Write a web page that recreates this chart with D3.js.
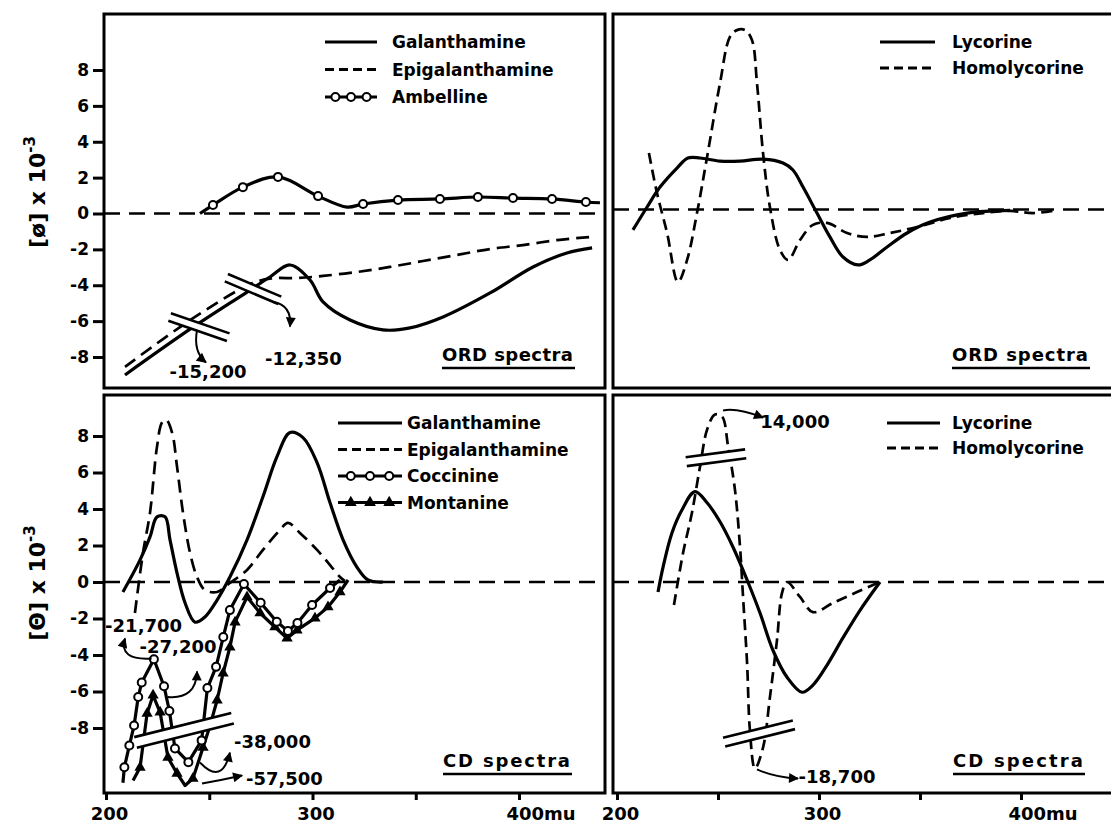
<!DOCTYPE html>
<html>

<head>
  <meta charset="UTF-8">
  <title>ORD and CD spectra</title>
  <style>
    body { margin: 0; background: #fff; }
    svg { display: block; font-family: 'DejaVu Sans', sans-serif; font-weight: bold; }
  </style>
</head>

<body>
  <script src="https://cdn.jsdelivr.net/npm/d3@7"></script>
  <script>
    const width = 1111,
      height = 824

    // ticks
    const yTickValues = [8, 6, 4, 2, 0, -2, -4, -6, -8]
    const xTickValues = [200, 250, 300, 350, 400]
    const xTickLabels = ['200', '', '300', '', '400mu']

    // legend names and panel titles
    const ordLeftSeries = ['Galanthamine', 'Epigalanthamine', 'Ambelline']
    const ordRightSeries = ['Lycorine', 'Homolycorine']
    const cdLeftSeries = ['Galanthamine', 'Epigalanthamine', 'Coccinine', 'Montanine']
    const cdRightSeries = ['Lycorine', 'Homolycorine']
    const panelTitles = ['ORD spectra', 'ORD spectra', 'CD spectra', 'CD spectra']

    // ORD spectra, [wavelength mu, value x 10^-3]
    const ordGalanthamine = [[209.2, -9.0], [240.7, -6.45], [268.3, -4.38], [279.4, -3.54], [289.1, -2.87],
      [298.8, -3.71], [305.1, -4.93], [318.2, -5.94], [334.1, -6.49], [347.2, -6.38], [363.2, -5.77],
      [386.0, -4.43], [406.8, -2.98], [423.2, -2.20], [435.4, -1.92]]
    const ordEpigalanthamine = [[209.2, -8.55], [240.7, -5.95], [269.7, -3.95], [280.0, -3.62], [292.5, -3.60],
      [305.1, -3.48], [321.5, -3.26], [337.5, -2.98], [353.5, -2.65], [369.9, -2.31], [386.0, -1.98],
      [401.9, -1.76], [418.4, -1.48], [434.4, -1.31]]
    // third value: 1 = circle drawn on that point
    const ordAmbelline = [[245.5, 0, 0], [251.8, 0.47, 1], [266.3, 1.47, 1], [283.3, 2.04, 1], [302.7, 0.97, 1],
      [316.7, 0.36, 0], [324.5, 0.53, 1], [341.4, 0.75, 1], [361.7, 0.81, 1], [380.1, 0.92, 1],
      [397.1, 0.86, 1], [416.0, 0.81, 1], [432.4, 0.64, 1], [439.2, 0.6, 0]]
    const ordLycorine = [[207.9, -1.14], [214.9, 0.14], [221.3, 1.25], [229.7, 2.31], [235.1, 2.87],
      [241.1, 2.87], [251.0, 2.70], [260.9, 2.70], [272.3, 2.81], [282.2, 2.59], [287.1, 2.20],
      [292.1, 1.25], [299.0, -0.20], [305.4, -1.53], [311.9, -2.65], [319.3, -3.09], [325.2, -2.81],
      [333.7, -2.09], [343.6, -1.31], [355.0, -0.70], [373.3, -0.20], [394.6, -0.05]]
    const ordHomolycorine = [[215.8, 3.15], [219.8, 0.92], [224.8, -1.31], [230.2, -4.04], [234.7, -2.81],
      [239.6, -0.20], [244.6, 2.93], [251.0, 7.05], [255.9, 9.62], [259.4, 10.0], [263.4, 10.0],
      [266.8, 9.45], [269.3, 7.05], [272.3, 3.15], [275.7, 0.14], [280.7, -2.26], [284.7, -2.81],
      [290.6, -1.70], [297.0, -0.86], [304.0, -0.75], [313.9, -1.31], [323.8, -1.53], [335.1, -1.31],
      [348.5, -0.98], [364.9, -0.47], [381.2, -0.20], [394.6, -0.08], [406.0, -0.20], [417.8, -0.03]]

    // CD spectra
    const cdGalanthamine = [[208.2, -0.55], [216.5, 1.21], [221.3, 2.47], [224.7, 3.57], [228.6, 3.57],
      [231.0, 2.31], [234.4, 0.49], [238.3, -1.15], [243.1, -2.20], [247.9, -1.92], [253.8, -0.99],
      [260.0, 0.27], [268.3, 2.31], [276.0, 4.67], [282.8, 6.87], [289.1, 8.19], [295.4, 7.91],
      [302.2, 6.54], [308.5, 4.34], [314.8, 2.31], [321.5, 0.82], [326.9, 0.11], [334.1, 0]]
    const cdEpigalanthamine = [[214.0, -1.70], [217.9, 1.59], [221.3, 3.79], [224.7, 7.42], [227.1, 8.74],
      [229.1, 8.90], [232.0, 8.19], [234.4, 6.32], [237.3, 3.79], [240.7, 1.59], [244.1, 0.27],
      [247.9, -0.44], [253.8, -0.55], [260.0, -0.05], [268.3, 0.66], [276.0, 1.76], [284.3, 2.86],
      [288.1, 3.24], [293.9, 2.69], [302.2, 1.76], [308.5, 0.93], [313.3, 0.27], [315.7, 0.05]]
    const cdCoccinine = [[208.2, -11.0, 0], [208.9, -10.15, 1], [211.3, -8.96, 1], [213.6, -7.86, 1],
      [215.6, -6.30, 1], [217.3, -5.51, 1], [223.2, -4.23, 1], [228.1, -5.71, 1], [230.7, -7.07, 1],
      [233.4, -9.12, 1], [239.9, -9.87, 1], [246.3, -8.68, 1], [249.1, -5.81, 1], [253.3, -4.65, 1],
      [256.8, -3.01, 1], [260.0, -1.54, 1], [266.8, -0.11, 1], [274.9, -1.14, 1], [282.7, -2.18, 1],
      [288.1, -2.69, 1], [292.7, -2.25, 1], [299.8, -1.26, 1], [308.5, -0.33, 1], [313.3, 0.11, 0]]
    const cdMontanine = [[213.1, -10.88, 0], [216.5, -10.16, 1], [219.9, -7.20, 1], [222.8, -6.21, 1],
      [226.2, -7.14, 1], [230.0, -9.62, 1], [234.4, -10.49, 1], [238.3, -11.15, 0], [242.1, -10.77, 1],
      [247.0, -9.07, 1], [250.4, -7.86, 0], [253.8, -6.48, 1], [256.7, -5.00, 1], [260.0, -3.57, 1],
      [262.5, -2.20, 1], [268.3, -0.82, 1], [274.6, -1.70, 1], [281.8, -2.47, 1], [287.7, -3.08, 1],
      [292.5, -2.64, 1], [301.2, -1.98, 1], [307.5, -1.37, 1], [313.3, -0.55, 1], [317.2, 0.11, 0]]
    const cdLycorine = [[220.3, -0.55], [222.8, 0.82], [227.2, 2.69], [232.2, 3.96], [238.6, 4.95],
      [244.6, 4.34], [251.0, 3.30], [257.4, 1.92], [264.4, 0.11], [270.8, -1.70], [277.2, -3.74],
      [284.2, -5.22], [291.6, -6.04], [297.0, -5.65], [304.0, -4.55], [311.9, -3.05], [320.3, -1.55],
      [330.2, 0]]
    const cdHomolycorine = [[228.2, -1.26], [232.7, 1.59], [237.1, 3.79], [241.1, 6.32], [244.6, 8.35],
      [248.5, 9.18], [252.0, 9.07], [255.0, 7.42], [258.4, 5.05], [260.9, 1.92], [262.4, -0.82],
      [264.4, -4.45], [265.8, -8.13], [268.3, -10.22], [272.3, -9.07], [275.7, -6.32], [279.2, -3.19],
      [281.7, -0.60], [284.2, 0], [290.6, -0.82], [297.0, -1.65], [306.9, -1.15], [318.8, -0.55],
      [330.2, 0]]

    // value notes (off-scale extremes) and their arrows [start, bend, end]
    const ordLeftNotes = [['-15,200', 249.4, -9.17], ['-12,350', 295.6, -8.44]]
    const ordLeftArrows = [[[244.1, -6.49], [242.1, -7.72], [248.4, -8.3]],
      [[280.9, -4.93], [290.1, -5.1], [289.1, -6.3]]]
    const ordLeftBreaks = [[245.0, -6.33], [271.2, -4.21]]
    const cdLeftNotes = [['-21,700', 218.2, -2.75], ['-27,200', 234.9, -3.90], ['-38,000', 280.6, -9.07],
      ['-57,500', 286.4, -11.1]]
    const cdLeftArrows = [[[222.1, -4.19], [206, -4.3], [209.2, -3.1]],
      [[230.0, -6.30], [243.6, -6.43], [244.1, -4.9]],
      [[245.5, -9.89], [256.2, -11.15], [260.0, -9.35]],
      [[246.5, -11.04], [256, -10.85], [265.9, -10.6]]]
    const cdLeftBreaks = [[237.8, -8.13]]
    const cdRightNotes = [['14,000', 288.1, 8.46], ['-18,700', 308.9, -11.04]]
    const cdRightArrows = [[[252.5, 9.40], [259.4, 9.56], [272.3, 9.01]],
      [[269.3, -10.27], [278, -10.7], [289.6, -10.77]]]
    const cdRightBreaks = [[249.0, 6.81], [270.3, -8.30]]

    const svg = d3.select('body')
      .append('svg')
      .attr('width', width)
      .attr('height', height)

    const defs = svg.append('defs')
    defs.append('marker')
      .attr('id', 'arrowhead')
      .attr('viewBox', '0 0 10 10')
      .attr('refX', 9)
      .attr('refY', 5)
      .attr('markerWidth', 12)
      .attr('markerHeight', 10)
      .attr('markerUnits', 'userSpaceOnUse')
      .attr('orient', 'auto')
      .append('path')
      .attr('d', 'M0,0L10,5L0,10z')

    const xLeft = d3.scaleLinear().domain([200, 400]).range([106, 519])
    const xRight = d3.scaleLinear().domain([200, 400]).range([617, 1021])
    const yOrd = d3.scaleLinear().domain([8, -8]).range([70, 357])
    const yOrdRight = d3.scaleLinear().domain([8, -8]).range([66, 353])
    const yCd = d3.scaleLinear().domain([8, -8]).range([436, 728])

    const panels = [
      { box: [104, 14, 605, 388], x: xLeft, y: yOrd },
      { box: [613, 14, 1118, 388], x: xRight, y: yOrdRight },
      { box: [104, 395, 605, 793], x: xLeft, y: yCd },
      { box: [613, 395, 1118, 793], x: xRight, y: yCd }
    ]

    // zero lines
    panels.forEach(p => {
      svg.append('line')
        .attr('x1', p.box[0]).attr('x2', p.box[2])
        .attr('y1', p.y(0)).attr('y2', p.y(0))
        .attr('stroke', '#000')
        .attr('stroke-width', 2.6)
        .attr('stroke-dasharray', '16,9')
    })

    function drawCurve(p, data, dash, curve) {
      const line = d3.line()
        .x(d => p.x(d[0]))
        .y(d => p.y(d[1]))
        .curve(curve || d3.curveCatmullRom.alpha(0.5))
      svg.append('path')
        .datum(data)
        .attr('d', line)
        .attr('fill', 'none')
        .attr('stroke', '#000')
        .attr('stroke-width', dash ? 2.7 : 3.2)
        .attr('stroke-linejoin', 'round')
        .attr('stroke-dasharray', dash || null)
    }

    function drawMarkers(p, data, type) {
      const pts = data.filter(d => d[2] === 1)
      if (type === 'circles') {
        svg.append('g').selectAll('circle')
          .data(pts).enter()
          .append('circle')
          .attr('cx', d => p.x(d[0]))
          .attr('cy', d => p.y(d[1]))
          .attr('r', 4)
          .attr('fill', '#fff')
          .attr('stroke', '#000')
          .attr('stroke-width', 2)
      } else {
        svg.append('g').selectAll('path')
          .data(pts).enter()
          .append('path')
          .attr('d', d3.symbol().type(d3.symbolTriangle).size(55))
          .attr('transform', d => `translate(${p.x(d[0])},${p.y(d[1])})`)
          .attr('fill', '#000')
      }
    }

    function drawBreak(p, pt, angle, len, gap) {
      const g = svg.append('g')
        .attr('transform', `translate(${p.x(pt[0])},${p.y(pt[1])}) rotate(${angle})`)
      g.append('rect')
        .attr('x', -len / 2).attr('y', -gap / 2)
        .attr('width', len).attr('height', gap)
        .attr('fill', '#fff')
      g.selectAll('line')
        .data([-gap / 2, gap / 2]).enter()
        .append('line')
        .attr('x1', -len / 2).attr('x2', len / 2)
        .attr('y1', d => d).attr('y2', d => d)
        .attr('stroke', '#000')
        .attr('stroke-width', 2.6)
    }

    function drawNotes(p, notes, arrows) {
      notes.forEach(n => {
        svg.append('text')
          .attr('x', p.x(n[1]))
          .attr('y', p.y(n[2]))
          .attr('text-anchor', 'middle')
          .attr('font-size', 18)
          .text(n[0])
      })
      arrows.forEach(a => {
        const path = d3.path()
        path.moveTo(p.x(a[0][0]), p.y(a[0][1]))
        path.quadraticCurveTo(p.x(a[1][0]), p.y(a[1][1]), p.x(a[2][0]), p.y(a[2][1]))
        svg.append('path')
          .attr('d', path.toString())
          .attr('fill', 'none')
          .attr('stroke', '#000')
          .attr('stroke-width', 2)
          .attr('marker-end', 'url(#arrowhead)')
      })
    }

    function drawLegend(names, types, x0, x1, tx, y0, dy) {
      names.forEach((name, i) => {
        const y = y0 + i * dy
        const t = types[i]
        svg.append('line')
          .attr('x1', x0).attr('x2', x1)
          .attr('y1', y).attr('y2', y)
          .attr('stroke', '#000')
          .attr('stroke-width', 3)
          .attr('stroke-dasharray', t === 'dashed' ? '9,5' : null)
        if (t === 'circles' || t === 'triangles') {
          const xs = [0.2, 0.5, 0.8].map(f => x0 + f * (x1 - x0))
          svg.append('g').selectAll('.m')
            .data(xs).enter()
            .append('path')
            .attr('d', t === 'circles'
              ? d3.symbol().type(d3.symbolCircle).size(50)
              : d3.symbol().type(d3.symbolTriangle).size(60))
            .attr('transform', d => `translate(${d},${y})`)
            .attr('fill', t === 'circles' ? '#fff' : '#000')
            .attr('stroke', '#000')
            .attr('stroke-width', t === 'circles' ? 2 : 0)
        }
        svg.append('text')
          .attr('x', tx)
          .attr('y', y)
          .attr('dy', '0.36em')
          .attr('font-size', 17)
          .text(name)
      })
    }

    // curves
    const [tl, tr, bl, br] = panels
    drawCurve(tl, ordGalanthamine)
    drawCurve(tl, ordEpigalanthamine, '13,7')
    drawCurve(tl, ordAmbelline)
    drawMarkers(tl, ordAmbelline, 'circles')
    drawCurve(tr, ordLycorine)
    drawCurve(tr, ordHomolycorine, '11,6')
    drawCurve(bl, cdGalanthamine)
    drawCurve(bl, cdEpigalanthamine, '13,7')
    drawCurve(bl, cdCoccinine, null, d3.curveLinear)
    drawCurve(bl, cdMontanine, null, d3.curveLinear)
    drawMarkers(bl, cdMontanine, 'triangles')
    drawMarkers(bl, cdCoccinine, 'circles')
    drawCurve(br, cdLycorine)
    drawCurve(br, cdHomolycorine, '11,6')

    // break symbols
    drawBreak(tl, ordLeftBreaks[0], 19, 62, 8)
    drawBreak(tl, ordLeftBreaks[1], 23, 58, 8)
    drawBreak(bl, cdLeftBreaks[0], -14, 100, 11)
    drawBreak(br, cdRightBreaks[0], -7.5, 60, 9)
    drawBreak(br, cdRightBreaks[1], -14, 72, 9)

    drawNotes(tl, ordLeftNotes, ordLeftArrows)
    drawNotes(bl, cdLeftNotes, cdLeftArrows)
    drawNotes(br, cdRightNotes, cdRightArrows)

    // legends
    drawLegend(ordLeftSeries, ['solid', 'dashed', 'circles'], 325, 377, 392, 42, 27.5)
    drawLegend(ordRightSeries, ['solid', 'dashed'], 880, 935, 952, 42, 26)
    drawLegend(cdLeftSeries, ['solid', 'dashed', 'circles', 'triangles'], 338, 402, 407, 423, 26.5)
    drawLegend(cdRightSeries, ['solid', 'dashed'], 887, 940, 952, 423, 25)

    // panel titles, underlined
    const titlePos = [[442, 361, 131], [952, 361, 136], [443, 767, 127], [953, 767, 130]]
    panelTitles.forEach((t, i) => {
      const [x, y, len] = titlePos[i]
      svg.append('text')
        .attr('x', x).attr('y', y)
        .attr('font-size', 18)
        .attr('textLength', len)
        .attr('lengthAdjust', 'spacing')
        .text(t)
      svg.append('line')
        .attr('x1', x).attr('x2', x + len + 2)
        .attr('y1', y + 7).attr('y2', y + 7)
        .attr('stroke', '#000')
        .attr('stroke-width', 2.5)
    })

    // frames
    panels.forEach(p => {
      svg.append('rect')
        .attr('x', p.box[0]).attr('y', p.box[1])
        .attr('width', p.box[2] - p.box[0])
        .attr('height', p.box[3] - p.box[1])
        .attr('fill', 'none')
        .attr('stroke', '#000')
        .attr('stroke-width', 3)
    })

    // axes
    function styleAxis(g, size) {
      g.attr('font-size', size)
        .attr('font-family', 'DejaVu Sans')
        .attr('font-weight', 'bold')
      g.select('.domain').remove()
      g.selectAll('.tick line').attr('stroke-width', 3)
      g.selectAll('.tick text').attr('fill', '#000')
    }

    ;[yOrd, yCd].forEach(scale => {
      svg.append('g')
        .attr('transform', 'translate(104,0)')
        .call(d3.axisLeft(scale)
          .tickValues(yTickValues)
          .tickSize(11)
          .tickPadding(4)
          .tickFormat(d => String(d)))
        .call(styleAxis, 17)
    })

    ;[xLeft, xRight].forEach(scale => {
      const g = svg.append('g')
        .attr('transform', 'translate(0,793)')
        .call(d3.axisBottom(scale)
          .tickValues(xTickValues)
          .tickSize(7)
          .tickPadding(7)
          .tickFormat((d, i) => xTickLabels[i]))
        .call(styleAxis, 18)
      g.selectAll('.tick text')
        .attr('dx', 3)
        .filter(d => d === 400)
        .attr('text-anchor', 'start')
        .attr('dx', -13)
    })

    // y axis titles
    const yTitles = [['[ø] x 10', 192], ['[Θ] x 10', 583]]
    yTitles.forEach(t => {
      const text = svg.append('text')
        .attr('transform', `translate(45,${t[1]}) rotate(-90)`)
        .attr('text-anchor', 'middle')
        .attr('font-size', 22)
      text.append('tspan').text(t[0])
      text.append('tspan')
        .attr('dy', -10)
        .attr('font-size', 15)
        .text('-3')
    })
  </script>
</body>

</html>
